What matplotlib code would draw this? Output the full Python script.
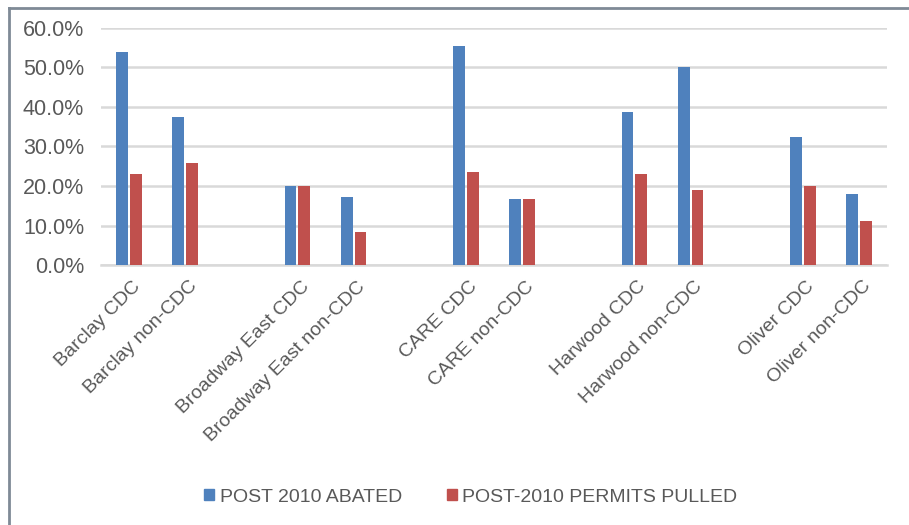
import matplotlib
matplotlib.use("Agg")
import matplotlib.pyplot as plt
import numpy as np
from matplotlib.lines import Line2D
from matplotlib.ticker import FuncFormatter
from matplotlib.transforms import ScaledTranslation

categories = ["Barclay CDC", "Barclay non-CDC", "",
              "Broadway East CDC", "Broadway East non-CDC", "",
              "CARE CDC", "CARE non-CDC", "",
              "Harwood CDC", "Harwood non-CDC", "",
              "Oliver CDC", "Oliver non-CDC"]
abated = [53.8, 37.4, np.nan, 20.0, 17.3, np.nan, 55.3, 16.6, np.nan,
          38.7, 50.0, np.nan, 32.5, 17.9]
permits = [23.0, 25.7, np.nan, 20.0, 8.5, np.nan, 23.5, 16.6, np.nan,
           23.1, 18.9, np.nan, 20.0, 11.1]
series_names = ["POST 2010 ABATED", "POST-2010 PERMITS PULLED"]
yticks = [0, 10, 20, 30, 40, 50, 60]

blue = "#4F81BD"
red = "#C0504D"
txt = "#595959"
plt.rcParams['font.family'] = ["Liberation Sans", "DejaVu Sans"]

fig = plt.figure(figsize=(9.09, 5.25), dpi=100)
ax = fig.add_axes([0.111, 0.495, 0.865, 0.452])

x = np.arange(len(categories))
w = 0.21
gap = 0.035
ax.bar(x - w / 2 - gap / 2, abated, width=w, color=blue, zorder=3)
ax.bar(x + w / 2 + gap / 2, permits, width=w, color=red, zorder=3)

ax.set_xlim(-0.5, len(categories) - 0.5)
ax.set_ylim(0, 60)
ax.set_yticks(yticks)
ax.yaxis.set_major_formatter(FuncFormatter(lambda v, p: f"{v:.1f}%"))
ax.grid(axis='y', color="#D9D9D9", linewidth=1.8, zorder=0)
ax.set_axisbelow(True)
for s in ["top", "right", "left"]:
    ax.spines[s].set_visible(False)
ax.spines["bottom"].set_color("#D9D9D9")
ax.spines["bottom"].set_linewidth(1.8)
ax.tick_params(axis='y', length=0, pad=12, labelsize=15.5, labelcolor=txt)
ax.tick_params(axis='x', length=0, pad=20)
ax.set_xticks(x)
ax.set_xticklabels(categories, rotation=45, ha='right', va='center',
                   rotation_mode='anchor', fontsize=14, color=txt)
offset = ScaledTranslation(0.09, 0.09, fig.dpi_scale_trans)
for lbl in ax.get_xticklabels():
    lbl.set_transform(lbl.get_transform() + offset)

# outer frame lines (left and top)
fig.add_artist(Line2D([0.0099, 0.0099], [0, 0.985], transform=fig.transFigure,
                      color="#7F8A96", linewidth=2))
fig.add_artist(Line2D([0.0099, 1.0], [0.985, 0.985], transform=fig.transFigure,
                      color="#7F8A96", linewidth=2))

handles = [plt.Rectangle((0, 0), 1, 1, color=blue),
           plt.Rectangle((0, 0), 1, 1, color=red)]
fig.legend(handles, series_names, loc='center', bbox_to_anchor=(0.518, 0.053),
           ncol=2, frameon=False, fontsize=14, labelcolor=txt,
           handlelength=0.5, handleheight=0.5, handletextpad=0.3,
           columnspacing=2.3)

fig.savefig("out.png", dpi=100)
